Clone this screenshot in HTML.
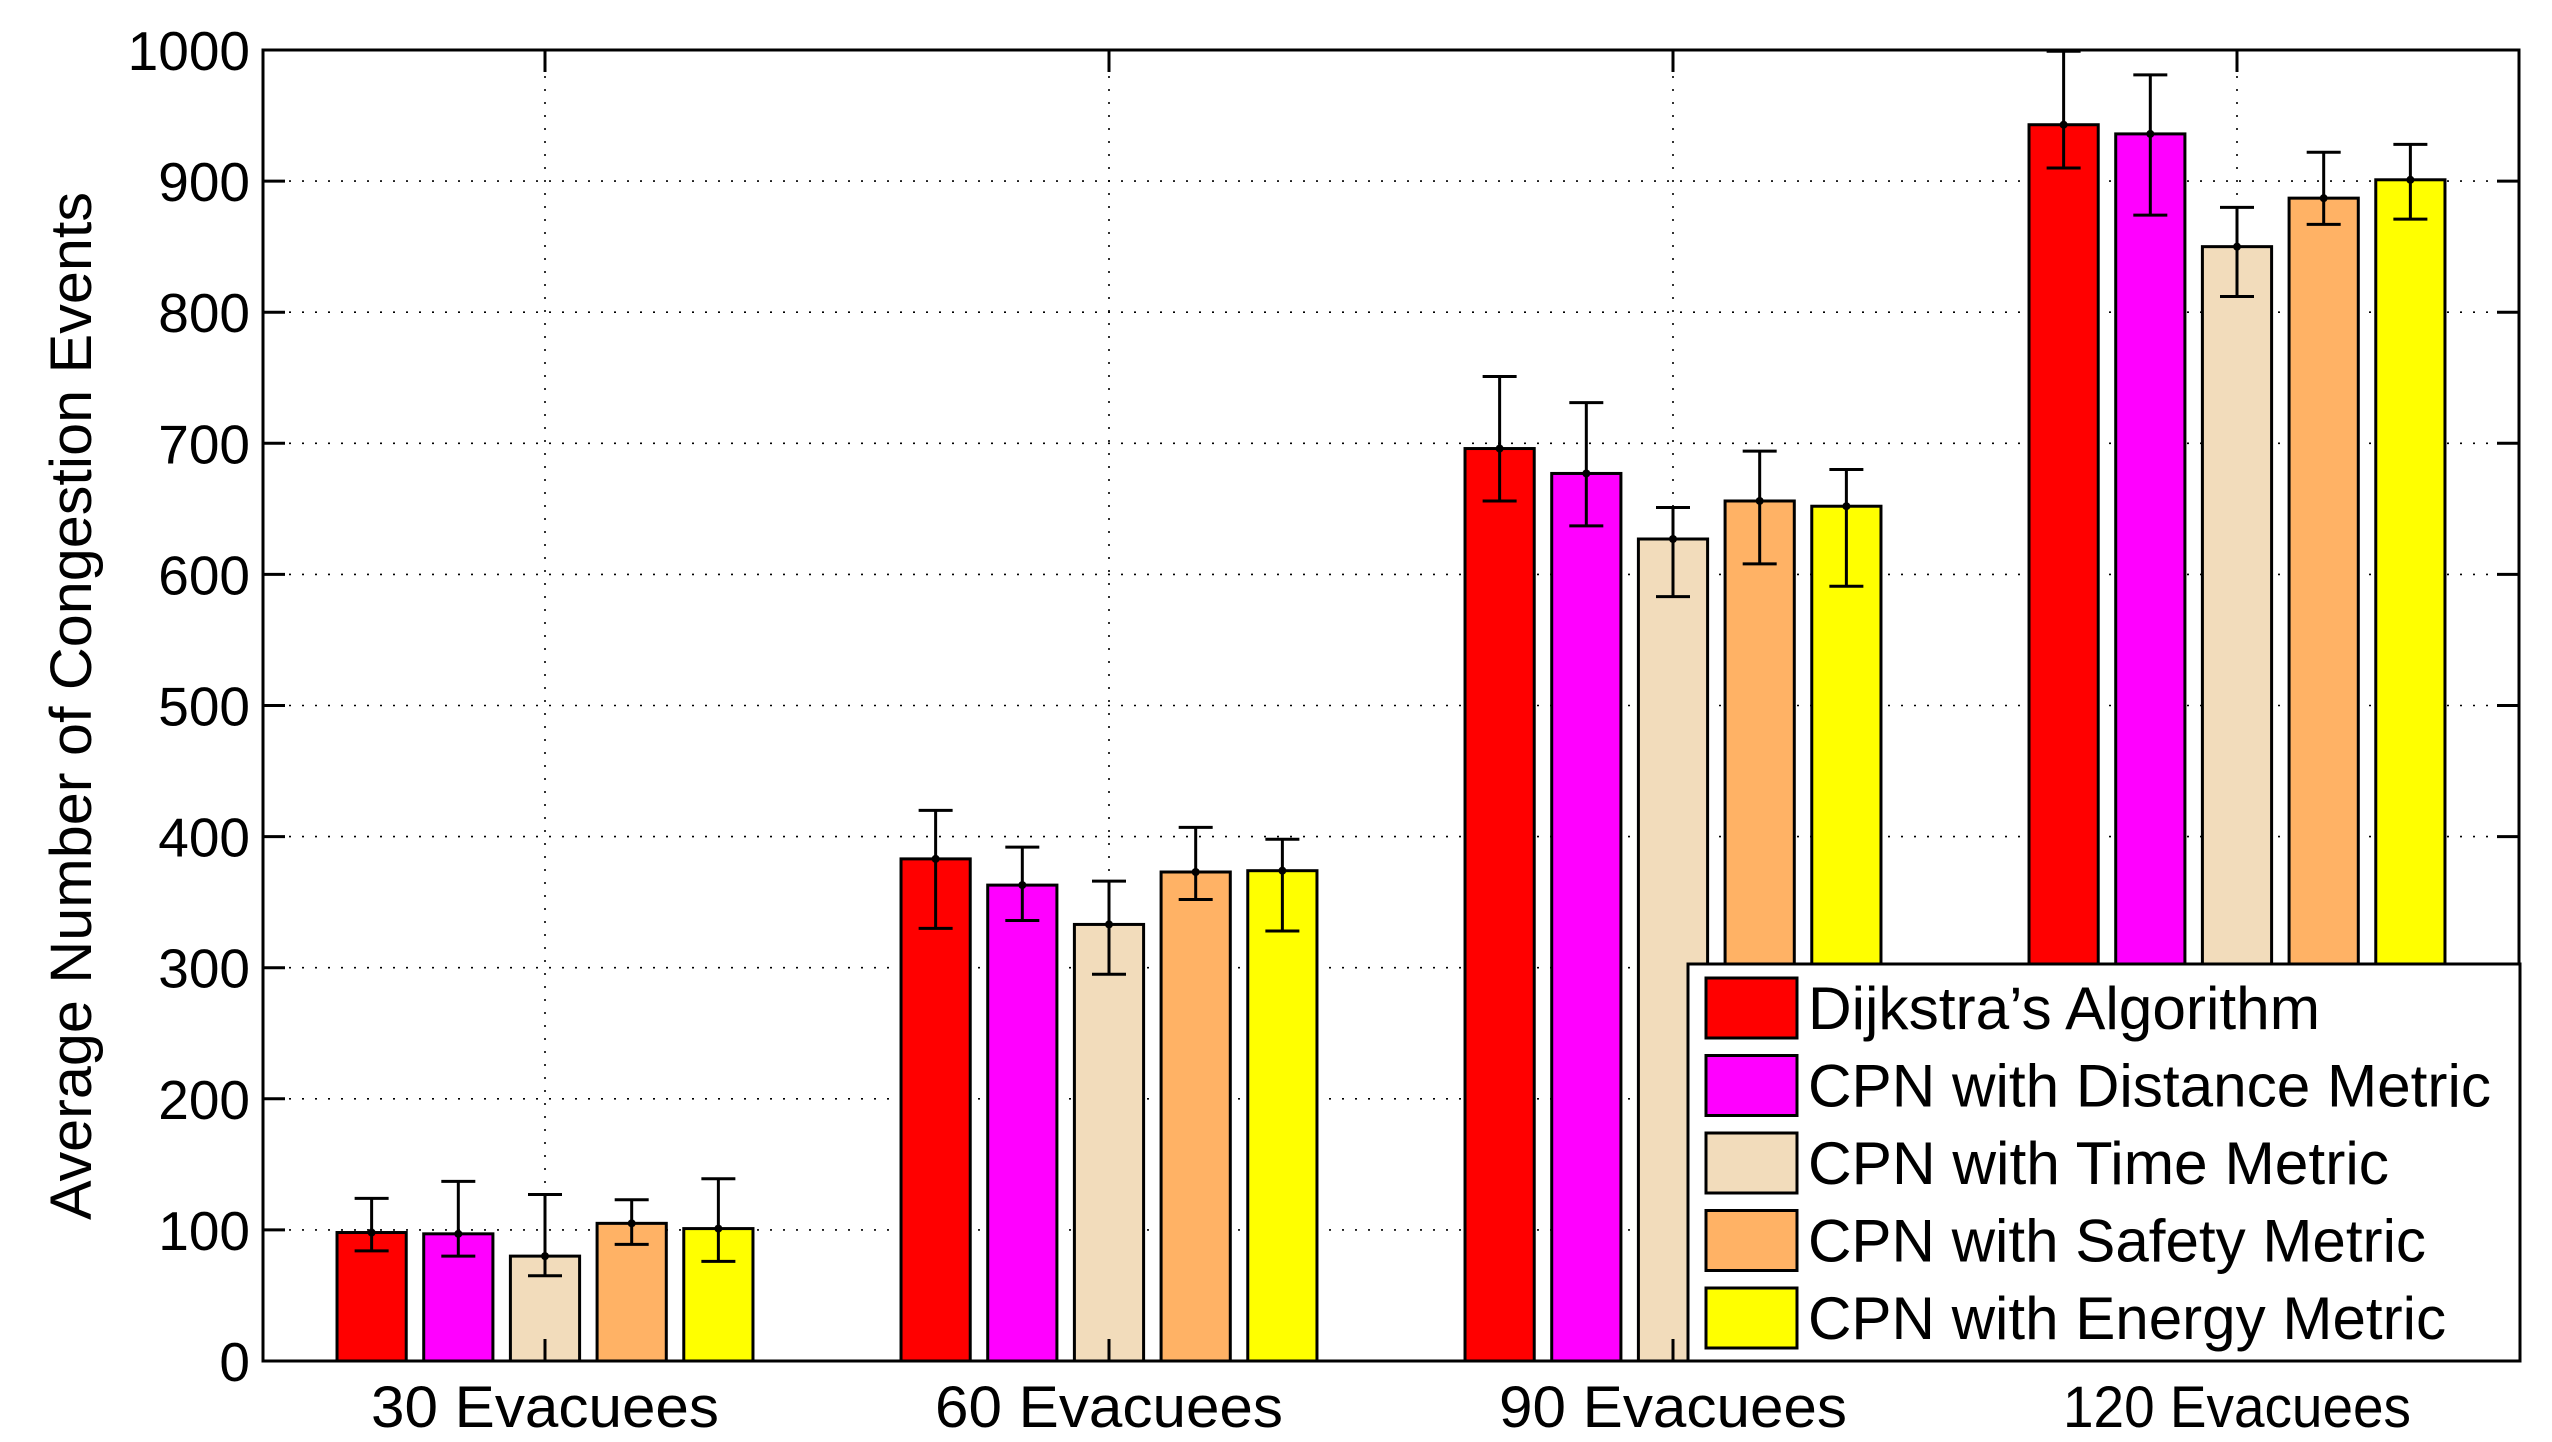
<!DOCTYPE html>
<html><head><meta charset="utf-8"><style>
html,body{margin:0;padding:0;background:#fff}
svg{display:block}
text{font-family:"Liberation Sans",sans-serif;fill:#000}
</style></head><body>
<svg id="chart" width="2552" height="1442" viewBox="0 0 2552 1442" xmlns="http://www.w3.org/2000/svg">
<rect width="2552" height="1442" fill="#fff"/>
<g id="grid"></g>
<g id="bars"></g>
<g id="axes"></g>
<g id="legend"></g>
</svg>
<script>
const categories = ["30 Evacuees","60 Evacuees","90 Evacuees","120 Evacuees"];
const seriesNames = ["Dijkstra\u2019s Algorithm","CPN with Distance Metric","CPN with Time Metric","CPN with Safety Metric","CPN with Energy Metric"];
const seriesColors = ["#ff0000","#ff00ff","#f2dcbb","#ffb265","#ffff00"];
const meanDijkstra = [98,383,696,943];
const meanDistance = [97,363,677,936];
const meanTime = [80,333,627,850];
const meanSafety = [105,373,656,887];
const meanEnergy = [101,374,652,901];
const lowDijkstra = [84,330,656,910];
const highDijkstra = [124,420,751,999];
const lowDistance = [80,336,637,874];
const highDistance = [137,392,731,981];
const lowTime = [65,295,583,812];
const highTime = [127,366,651,880];
const lowSafety = [89,352,608,867];
const highSafety = [123,407,694,922];
const lowEnergy = [76,328,591,871];
const highEnergy = [139,398,680,928];
const yTicks = [0,100,200,300,400,500,600,700,800,900,1000];

const means=[meanDijkstra,meanDistance,meanTime,meanSafety,meanEnergy];
const lows=[lowDijkstra,lowDistance,lowTime,lowSafety,lowEnergy];
const highs=[highDijkstra,highDistance,highTime,highSafety,highEnergy];

const L=263,R=2519,T=50,B=1361;
const unit=(R-L)/4;
function xPos(g){return L+(g+0.5)*unit;}
function yPos(v){return B-(v/1000)*(B-T);}
const NS="http://www.w3.org/2000/svg";
function mk(tag,attrs,parent){const e=document.createElementNS(NS,tag);for(const k in attrs)e.setAttribute(k,attrs[k]);parent.appendChild(e);return e;}
const grid=document.getElementById('grid'),bars=document.getElementById('bars'),axes=document.getElementById('axes'),legend=document.getElementById('legend');

yTicks.forEach(v=>{
  if(v===0||v===1000)return;
  const l=mk('line',{x1:L,x2:R,y1:yPos(v),y2:yPos(v),stroke:'#000','stroke-width':1.6,'stroke-dasharray':'2 11'},grid);
  
  
});
categories.forEach((c,g)=>{
  const l=mk('line',{x1:xPos(g),x2:xPos(g),y1:T,y2:B,stroke:'#000','stroke-width':1.6,'stroke-dasharray':'2 11'},grid);
  
  
});

const pitch=0.1537*unit,bw=0.1227*unit;
categories.forEach((c,g)=>{
  for(let s=0;s<5;s++){
    const cx=xPos(g)+(s-2)*pitch;
    const v=means[s][g];
    const r=mk('rect',{x:cx-bw/2,y:yPos(v),width:bw,height:B-yPos(v),fill:seriesColors[s],stroke:'#000','stroke-width':3},bars);
    
    
    const eg=mk('g',{stroke:'#000','stroke-width':3},bars);
    
    
    const yl=yPos(lows[s][g]),yh=yPos(highs[s][g]);
    mk('line',{x1:cx,x2:cx,y1:yh,y2:yl},eg);
    mk('line',{x1:cx-17,x2:cx+17,y1:yh,y2:yh},eg);
    mk('line',{x1:cx-17,x2:cx+17,y1:yl,y2:yl},eg);
    mk('circle',{cx:cx,cy:yPos(v),r:4,fill:'#000',stroke:'none'},eg);
  }
});

// axes box
const box=mk('rect',{x:L,y:T,width:R-L,height:B-T,fill:'none',stroke:'#000','stroke-width':3},axes);


yTicks.forEach(v=>{
  const y=yPos(v);
  mk('line',{x1:L,x2:L+22,y1:y,y2:y,stroke:'#000','stroke-width':3},axes);
  mk('line',{x1:R,x2:R-22,y1:y,y2:y,stroke:'#000','stroke-width':3},axes);
  const t=mk('text',{x:250,y:y+20,'text-anchor':'end','font-size':55},axes);
  t.textContent=v;
  
  
});
categories.forEach((c,g)=>{
  const x=xPos(g);
  mk('line',{x1:x,x2:x,y1:B,y2:B-22,stroke:'#000','stroke-width':3},axes);
  mk('line',{x1:x,x2:x,y1:T,y2:T+22,stroke:'#000','stroke-width':3},axes);
  const t=mk('text',{x:x,y:1427,'text-anchor':'middle','font-size':58,textLength:348,lengthAdjust:'spacingAndGlyphs'},axes);
  t.textContent=c;
  
  
});
const yt=mk('text',{x:0,y:0,'text-anchor':'middle','font-size':58,textLength:1028,lengthAdjust:'spacingAndGlyphs',transform:'translate(91,706) rotate(-90)'},axes);
yt.textContent="Average Number of Congestion Events";



// legend
const lb=mk('rect',{x:1688,y:964,width:2520-1688,height:B-964,fill:'#fff',stroke:'#000','stroke-width':3},legend);


const textWidths=[512,683,581,618,638];
seriesNames.forEach((n,s)=>{
  const y0=978+s*77.5;
  const sw=mk('rect',{x:1706,y:y0,width:91,height:60,fill:seriesColors[s],stroke:'#000','stroke-width':3},legend);
  
  
  const t=mk('text',{x:1808,y:y0+51,'font-size':60,textLength:textWidths[s],lengthAdjust:'spacingAndGlyphs'},legend);
  t.textContent=n;
  
  
});
</script>
</body></html>
